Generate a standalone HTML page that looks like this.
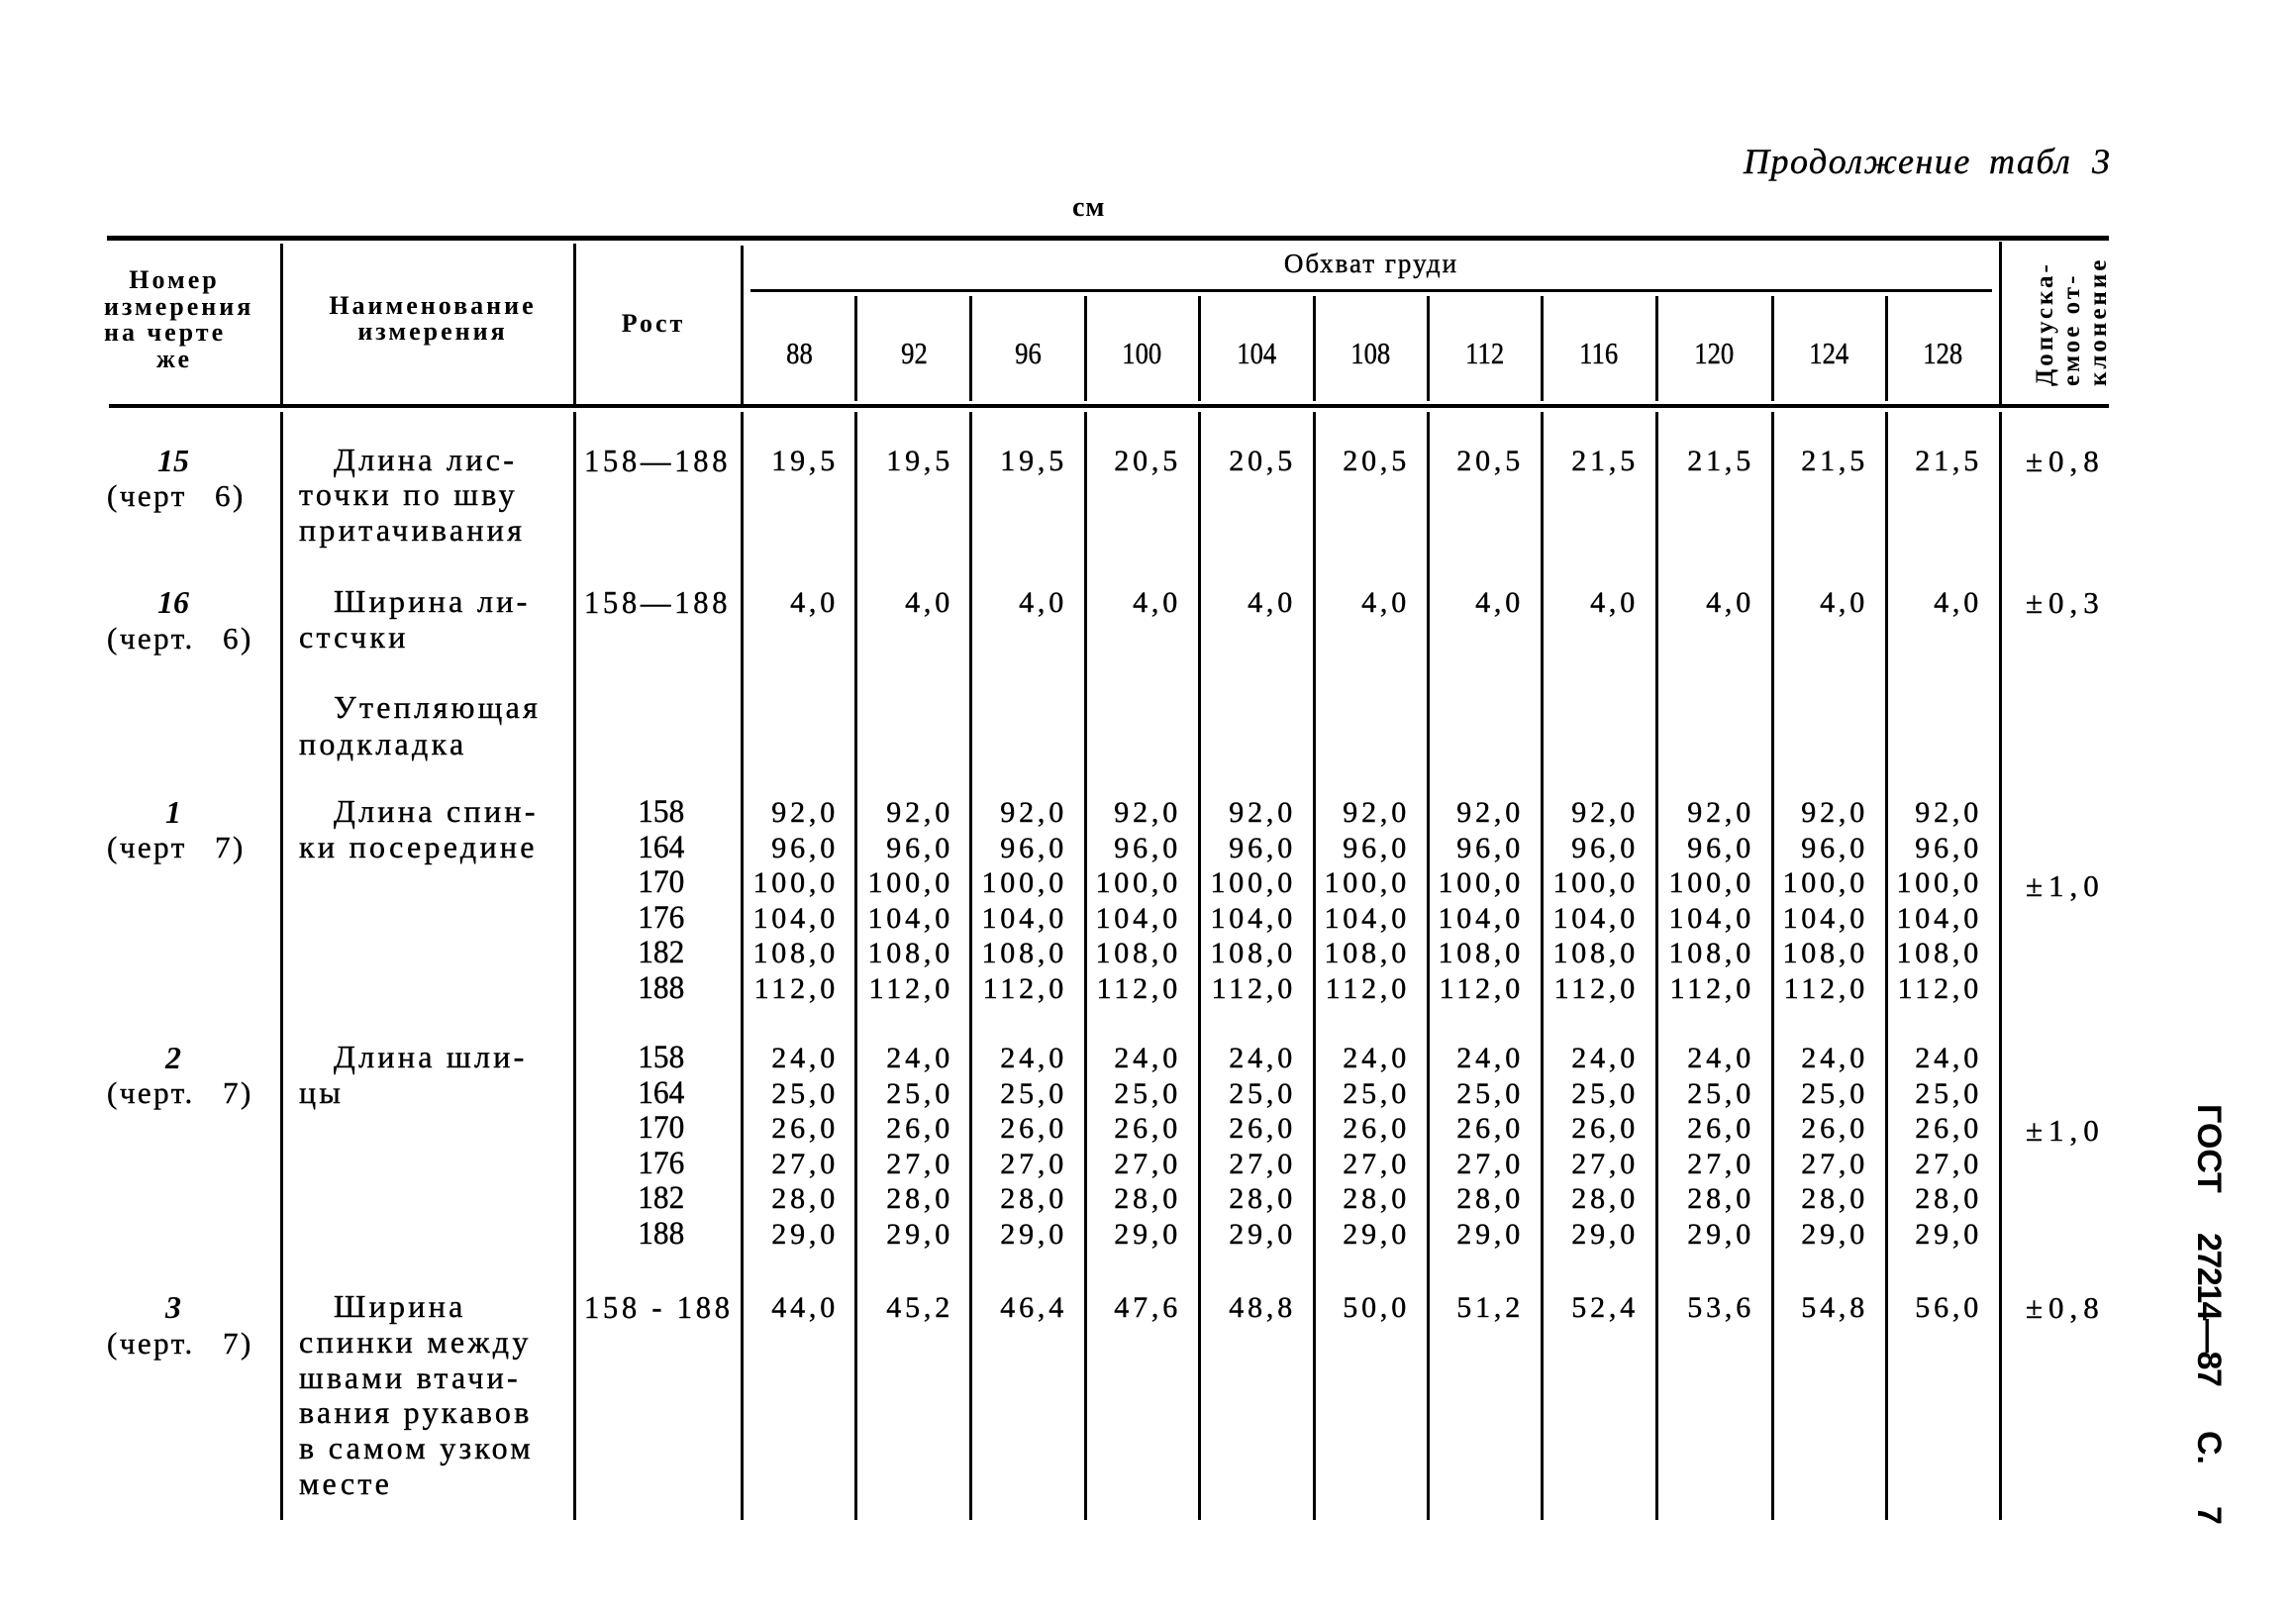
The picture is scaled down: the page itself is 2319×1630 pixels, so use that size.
<!DOCTYPE html>
<html><head><meta charset="utf-8">
<style>
html,body{margin:0;padding:0;background:#fff;}
body{width:2319px;height:1630px;position:relative;overflow:hidden;font-family:"Liberation Serif","DejaVu Serif",serif;color:#000;-webkit-text-stroke:0.4px #000;}
.a{position:absolute;white-space:nowrap;}
.l{position:absolute;background:#000;}
.t{position:absolute;white-space:nowrap;font-size:32px;letter-spacing:3.3px;line-height:35.6px;}
.n{position:absolute;white-space:nowrap;font-size:30px;letter-spacing:3.8px;line-height:35.6px;text-align:right;right:0;}
.col{position:absolute;top:0;height:1630px;}
.h{position:absolute;white-space:nowrap;font-weight:bold;font-size:26px;letter-spacing:3px;line-height:26px;-webkit-text-stroke:0;}
.cn{display:inline-block;transform:scaleX(0.86);}
.hn{position:absolute;top:339px;text-align:center;font-size:31px;line-height:35.6px;white-space:nowrap;}
.r15{top:448px}.r16{top:591px}.r1{top:803px}.r2{top:1051px}.r3{top:1303px}
.it{position:absolute;left:100px;width:150px;text-align:center;font-style:italic;font-weight:bold;font-size:32px;line-height:35.6px;-webkit-text-stroke:0;}
.ch{position:absolute;left:108px;font-size:31px;letter-spacing:2.5px;word-spacing:18px;line-height:35.6px;white-space:nowrap;}
.ro{position:absolute;white-space:nowrap;font-size:32px;line-height:35.6px;letter-spacing:4px;}
.ro .cn{transform-origin:0 0;transform:scaleX(0.95);}
.rc{position:absolute;left:620px;width:96px;text-align:center;font-size:33px;line-height:35.6px;}
.rc .cn{transform:scaleX(0.95);}
.pm{position:absolute;left:2046px;font-size:31px;letter-spacing:6px;line-height:35.6px;white-space:nowrap;}
</style></head><body>

<!-- title -->
<div class="a" style="left:1761px;top:143px;font-style:italic;font-size:36px;line-height:40px;letter-spacing:1.5px;">Продолжение</div>
<div class="a" style="left:2009px;top:143px;font-style:italic;font-size:36px;line-height:40px;letter-spacing:1.5px;">табл</div>
<div class="a" style="left:2113px;top:143px;font-style:italic;font-size:36px;line-height:40px;">3</div>
<div class="a" style="left:1083px;top:194px;font-weight:bold;font-size:28px;line-height:32px;letter-spacing:1px;-webkit-text-stroke:0;">см</div>

<!-- horizontal rules -->
<div class="l" style="left:108px;top:238px;width:2022px;height:5px;"></div>
<div class="l" style="left:758px;top:292px;width:1254px;height:3px;"></div>
<div class="l" style="left:110px;top:408px;width:2020px;height:4px;"></div>

<!-- header verticals -->
<div class="l" style="left:283px;top:246px;width:3px;height:162px;"></div>
<div class="l" style="left:579px;top:246px;width:3px;height:162px;"></div>
<div class="l" style="left:748px;top:248px;width:3px;height:160px;"></div>
<div class="l" style="left:2019px;top:244px;width:3px;height:164px;"></div>
<div class="l" style="left:863px;top:299px;width:3px;height:106px;"></div>
<div class="l" style="left:979px;top:299px;width:3px;height:106px;"></div>
<div class="l" style="left:1095px;top:299px;width:3px;height:106px;"></div>
<div class="l" style="left:1210px;top:299px;width:3px;height:106px;"></div>
<div class="l" style="left:1326px;top:299px;width:3px;height:106px;"></div>
<div class="l" style="left:1441px;top:299px;width:3px;height:106px;"></div>
<div class="l" style="left:1556px;top:299px;width:3px;height:106px;"></div>
<div class="l" style="left:1672px;top:299px;width:3px;height:106px;"></div>
<div class="l" style="left:1789px;top:299px;width:3px;height:106px;"></div>
<div class="l" style="left:1904px;top:299px;width:3px;height:106px;"></div>

<!-- body verticals -->
<div class="l" style="left:283px;top:416px;width:3px;height:1119px;"></div>
<div class="l" style="left:579px;top:416px;width:3px;height:1119px;"></div>
<div class="l" style="left:748px;top:416px;width:3px;height:1119px;"></div>
<div class="l" style="left:863px;top:416px;width:3px;height:1119px;"></div>
<div class="l" style="left:979px;top:416px;width:3px;height:1119px;"></div>
<div class="l" style="left:1095px;top:416px;width:3px;height:1119px;"></div>
<div class="l" style="left:1210px;top:416px;width:3px;height:1119px;"></div>
<div class="l" style="left:1326px;top:416px;width:3px;height:1119px;"></div>
<div class="l" style="left:1441px;top:416px;width:3px;height:1119px;"></div>
<div class="l" style="left:1556px;top:416px;width:3px;height:1119px;"></div>
<div class="l" style="left:1672px;top:416px;width:3px;height:1119px;"></div>
<div class="l" style="left:1789px;top:416px;width:3px;height:1119px;"></div>
<div class="l" style="left:1904px;top:416px;width:3px;height:1119px;"></div>
<div class="l" style="left:2019px;top:416px;width:3px;height:1119px;"></div>

<!-- header text -->
<div class="h" style="left:96px;width:160px;text-align:center;top:270px;">Номер</div>
<div class="h" style="left:105px;top:297px;">измерения</div>
<div class="h" style="left:105px;top:323px;">на черте</div>
<div class="h" style="left:96px;width:160px;text-align:center;top:350px;">же</div>
<div class="h" style="left:322px;width:230px;text-align:center;top:296px;">Наименование</div>
<div class="h" style="left:322px;width:230px;text-align:center;top:322px;">измерения</div>
<div class="h" style="left:600px;width:120px;text-align:center;top:314px;">Рост</div>
<div class="a" style="left:1265px;width:240px;text-align:center;top:251px;font-size:27px;line-height:30px;letter-spacing:2px;">Обхват груди</div>

<div class="hn" style="left:750px;width:115px;"><span class="cn">88</span></div>
<div class="hn" style="left:865px;width:116px;"><span class="cn">92</span></div>
<div class="hn" style="left:981px;width:115px;"><span class="cn">96</span></div>
<div class="hn" style="left:1096px;width:115px;"><span class="cn">100</span></div>
<div class="hn" style="left:1211px;width:116px;"><span class="cn">104</span></div>
<div class="hn" style="left:1327px;width:115px;"><span class="cn">108</span></div>
<div class="hn" style="left:1442px;width:115px;"><span class="cn">112</span></div>
<div class="hn" style="left:1557px;width:116px;"><span class="cn">116</span></div>
<div class="hn" style="left:1673px;width:117px;"><span class="cn">120</span></div>
<div class="hn" style="left:1790px;width:115px;"><span class="cn">124</span></div>
<div class="hn" style="left:1905px;width:115px;"><span class="cn">128</span></div>

<div class="a" style="left:2052px;top:390px;transform-origin:0 0;transform:rotate(-90deg);font-weight:bold;font-size:25px;line-height:27px;letter-spacing:3px;-webkit-text-stroke:0;">Допуска-<br>емое от-<br>клонение</div>

<!-- column 1 -->
<div class="it r15">15</div>
<div class="ch" style="top:483px;">(черт 6)</div>
<div class="it r16">16</div>
<div class="ch" style="top:627px;">(черт. 6)</div>
<div class="it r1">1</div>
<div class="ch" style="top:838px;">(черт 7)</div>
<div class="it r2">2</div>
<div class="ch" style="top:1086px;">(черт. 7)</div>
<div class="it r3">3</div>
<div class="ch" style="top:1339px;">(черт. 7)</div>

<!-- column 2 -->
<div class="t" style="left:337px;top:447px;">Длина лис-</div>
<div class="t" style="left:302px;top:482px;">точки по шву</div>
<div class="t" style="left:302px;top:518px;">притачивания</div>
<div class="t" style="left:337px;top:590px;">Ширина ли-</div>
<div class="t" style="left:302px;top:626px;">стсчки</div>
<div class="t" style="left:337px;top:697px;">Утепляющая</div>
<div class="t" style="left:302px;top:734px;">подкладка</div>
<div class="t" style="left:337px;top:802px;">Длина спин-</div>
<div class="t" style="left:302px;top:838px;">ки посередине</div>
<div class="t" style="left:337px;top:1050px;">Длина шли-</div>
<div class="t" style="left:302px;top:1086px;">цы</div>
<div class="t" style="left:337px;top:1302px;">Ширина</div>
<div class="t" style="left:302px;top:1338px;">спинки между</div>
<div class="t" style="left:302px;top:1374px;">швами втачи-</div>
<div class="t" style="left:302px;top:1409px;">вания рукавов</div>
<div class="t" style="left:302px;top:1445px;">в самом узком</div>
<div class="t" style="left:302px;top:1481px;">месте</div>

<!-- column 3 -->
<div class="ro r15" style="left:590px;"><span class="cn">158—188</span></div>
<div class="ro r16" style="left:590px;"><span class="cn">158—188</span></div>
<div class="rc r1"><span class="cn">158<br>164<br>170<br>176<br>182<br>188</span></div>
<div class="rc r2"><span class="cn">158<br>164<br>170<br>176<br>182<br>188</span></div>
<div class="ro r3" style="left:590px;"><span class="cn">158 - 188</span></div>

<!-- numeric columns -->
<div class="col" style="left:750px;width:97px;">
<div class="n r15">19,5</div><div class="n r16">4,0</div>
<div class="n r1">92,0<br>96,0<br>100,0<br>104,0<br>108,0<br>112,0</div>
<div class="n r2">24,0<br>25,0<br>26,0<br>27,0<br>28,0<br>29,0</div>
<div class="n r3">44,0</div></div>
<div class="col" style="left:865px;width:98px;">
<div class="n r15">19,5</div><div class="n r16">4,0</div>
<div class="n r1">92,0<br>96,0<br>100,0<br>104,0<br>108,0<br>112,0</div>
<div class="n r2">24,0<br>25,0<br>26,0<br>27,0<br>28,0<br>29,0</div>
<div class="n r3">45,2</div></div>
<div class="col" style="left:981px;width:97px;">
<div class="n r15">19,5</div><div class="n r16">4,0</div>
<div class="n r1">92,0<br>96,0<br>100,0<br>104,0<br>108,0<br>112,0</div>
<div class="n r2">24,0<br>25,0<br>26,0<br>27,0<br>28,0<br>29,0</div>
<div class="n r3">46,4</div></div>
<div class="col" style="left:1096px;width:97px;">
<div class="n r15">20,5</div><div class="n r16">4,0</div>
<div class="n r1">92,0<br>96,0<br>100,0<br>104,0<br>108,0<br>112,0</div>
<div class="n r2">24,0<br>25,0<br>26,0<br>27,0<br>28,0<br>29,0</div>
<div class="n r3">47,6</div></div>
<div class="col" style="left:1211px;width:98px;">
<div class="n r15">20,5</div><div class="n r16">4,0</div>
<div class="n r1">92,0<br>96,0<br>100,0<br>104,0<br>108,0<br>112,0</div>
<div class="n r2">24,0<br>25,0<br>26,0<br>27,0<br>28,0<br>29,0</div>
<div class="n r3">48,8</div></div>
<div class="col" style="left:1327px;width:97px;">
<div class="n r15">20,5</div><div class="n r16">4,0</div>
<div class="n r1">92,0<br>96,0<br>100,0<br>104,0<br>108,0<br>112,0</div>
<div class="n r2">24,0<br>25,0<br>26,0<br>27,0<br>28,0<br>29,0</div>
<div class="n r3">50,0</div></div>
<div class="col" style="left:1442px;width:97px;">
<div class="n r15">20,5</div><div class="n r16">4,0</div>
<div class="n r1">92,0<br>96,0<br>100,0<br>104,0<br>108,0<br>112,0</div>
<div class="n r2">24,0<br>25,0<br>26,0<br>27,0<br>28,0<br>29,0</div>
<div class="n r3">51,2</div></div>
<div class="col" style="left:1557px;width:98px;">
<div class="n r15">21,5</div><div class="n r16">4,0</div>
<div class="n r1">92,0<br>96,0<br>100,0<br>104,0<br>108,0<br>112,0</div>
<div class="n r2">24,0<br>25,0<br>26,0<br>27,0<br>28,0<br>29,0</div>
<div class="n r3">52,4</div></div>
<div class="col" style="left:1673px;width:99px;">
<div class="n r15">21,5</div><div class="n r16">4,0</div>
<div class="n r1">92,0<br>96,0<br>100,0<br>104,0<br>108,0<br>112,0</div>
<div class="n r2">24,0<br>25,0<br>26,0<br>27,0<br>28,0<br>29,0</div>
<div class="n r3">53,6</div></div>
<div class="col" style="left:1790px;width:97px;">
<div class="n r15">21,5</div><div class="n r16">4,0</div>
<div class="n r1">92,0<br>96,0<br>100,0<br>104,0<br>108,0<br>112,0</div>
<div class="n r2">24,0<br>25,0<br>26,0<br>27,0<br>28,0<br>29,0</div>
<div class="n r3">54,8</div></div>
<div class="col" style="left:1905px;width:97px;">
<div class="n r15">21,5</div><div class="n r16">4,0</div>
<div class="n r1">92,0<br>96,0<br>100,0<br>104,0<br>108,0<br>112,0</div>
<div class="n r2">24,0<br>25,0<br>26,0<br>27,0<br>28,0<br>29,0</div>
<div class="n r3">56,0</div></div>

<!-- tolerance -->
<div class="pm r15">±0,8</div>
<div class="pm r16">±0,3</div>
<div class="pm" style="top:877px;">±1,0</div>
<div class="pm" style="top:1124px;">±1,0</div>
<div class="pm r3">±0,8</div>

<!-- side GOST -->
<div class="a" style="left:2248px;top:1115px;transform-origin:0 0;transform:rotate(90deg);font-family:'Liberation Sans',sans-serif;font-weight:bold;font-size:34px;line-height:35px;-webkit-text-stroke:0;">ГОСТ</div>
<div class="a" style="left:2248px;top:1245px;transform-origin:0 0;transform:rotate(90deg);font-family:'Liberation Sans',sans-serif;font-weight:bold;font-size:34px;line-height:35px;letter-spacing:-1.5px;-webkit-text-stroke:0;">27214—87</div>
<div class="a" style="left:2248px;top:1445px;transform-origin:0 0;transform:rotate(90deg);font-family:'Liberation Sans',sans-serif;font-weight:bold;font-size:34px;line-height:35px;-webkit-text-stroke:0;">С.</div>
<div class="a" style="left:2248px;top:1521px;transform-origin:0 0;transform:rotate(90deg);font-family:'Liberation Sans',sans-serif;font-weight:bold;font-size:34px;line-height:35px;-webkit-text-stroke:0;">7</div>

</body></html>
